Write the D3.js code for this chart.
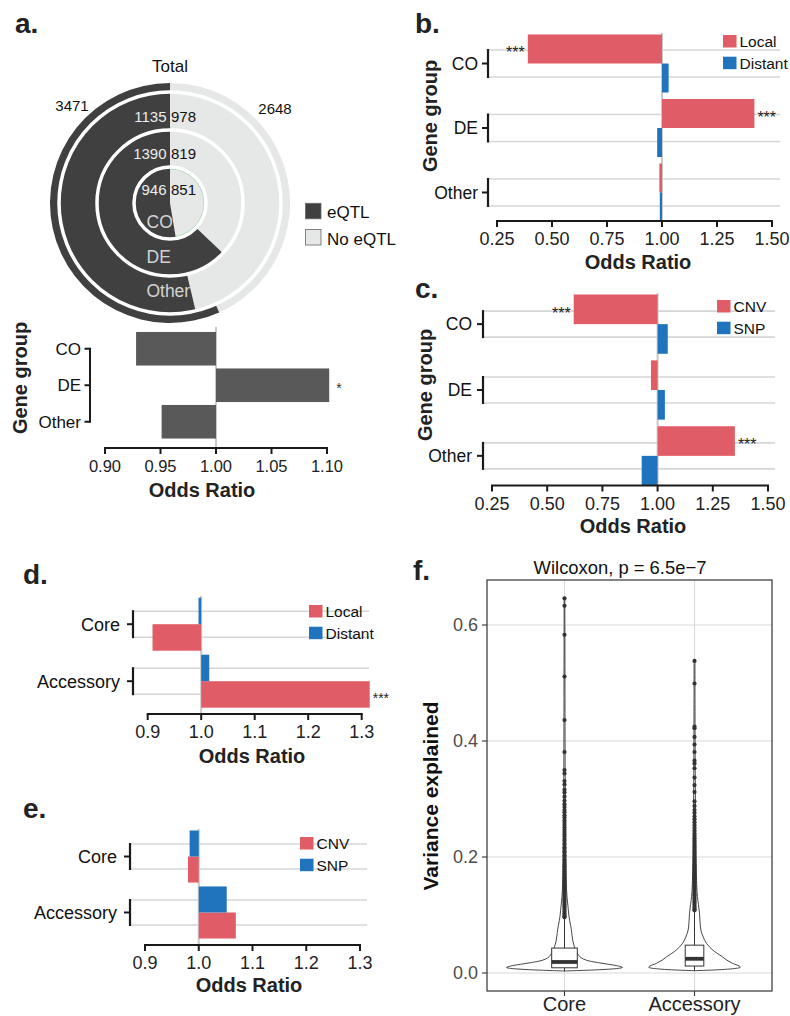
<!DOCTYPE html>
<html><head><meta charset="utf-8">
<script src="https://cdn.jsdelivr.net/npm/d3@7"></script>
<style>body{margin:0;background:#fff}svg{display:block;font-family:"Liberation Sans",Arial,Helvetica,sans-serif}</style>
</head><body>
<script>
// ---------------- DATA ----------------
const donutRings = ["CO", "DE", "Other", "Total"];
const donutEqtl = [946, 1390, 1135, 3471];
const donutNoEqtl = [851, 819, 978, 2648];

const aGroups = ["CO", "DE", "Other"];
const aOdds = [0.928, 1.102, 0.951];
const aSig = ["", "*", ""];
const aTicks = [0.90, 0.95, 1.00, 1.05, 1.10];

const bGroups = ["CO", "DE", "Other"];
const bLocal = [0.39, 1.42, 0.988];
const bDistant = [1.03, 0.978, 0.99];
const bSigLocal = ["***", "***", ""];
const bcTicks = [0.25, 0.50, 0.75, 1.00, 1.25, 1.50];

const cGroups = ["CO", "DE", "Other"];
const cCNV = [0.62, 0.97, 1.35];
const cSNP = [1.046, 1.033, 0.928];
const cSigCNV = ["***", "", "***"];

const deGroups = ["Core", "Accessory"];
const dLocal = [0.909, 1.315];
const dDistant = [0.995, 1.015];
const dSigLocal = ["", "***"];
const eCNV = [0.98, 1.069];
const eSNP = [0.983, 1.052];
const deTicks = [0.9, 1.0, 1.1, 1.2, 1.3];

const fGroups = ["Core", "Accessory"];
const fTicks = [0.0, 0.2, 0.4, 0.6];
const fQ1 = [0.009, 0.012];
const fMedian = [0.019, 0.0245];
const fQ3 = [0.043, 0.048];
const fWhiskerHi = [0.095, 0.106];
const fMin = [0.003, 0.004];
// violin density profiles (value, relative density)
const coreViolinV = [0.0035, 0.005, 0.0065, 0.008, 0.0095, 0.012, 0.015, 0.018, 0.022, 0.026, 0.031, 0.038, 0.045, 0.055, 0.065, 0.075, 0.09, 0.10, 0.115, 0.13, 0.15, 0.2, 0.3, 0.4, 0.5, 0.646];
const coreViolinD = [0.0, 0.45, 0.75, 0.93, 1.0, 0.93, 0.76, 0.57, 0.38, 0.29, 0.24, 0.2, 0.172, 0.145, 0.13, 0.118, 0.09, 0.075, 0.06, 0.045, 0.033, 0.02, 0.013, 0.01, 0.008, 0.006];
const accViolinV = [0.004, 0.0055, 0.007, 0.0085, 0.0098, 0.012, 0.0167, 0.022, 0.028, 0.034, 0.040, 0.051, 0.062, 0.074, 0.088, 0.103, 0.118, 0.132, 0.16, 0.2, 0.3, 0.4, 0.538];
const accViolinD = [0.0, 0.4, 0.62, 0.75, 0.79, 0.77, 0.655, 0.56, 0.48, 0.39, 0.31, 0.207, 0.15, 0.11, 0.095, 0.086, 0.068, 0.05, 0.035, 0.025, 0.015, 0.01, 0.007];
const coreOutliers = [0.646,0.633,0.583,0.511,0.436,0.381,0.350,0.344,0.331,0.325,0.316,0.311,0.304,0.297,0.291,0.286,0.281,0.277,0.272,0.268,0.263,0.259,0.255,0.251,0.247,0.243,0.239,0.235,0.231,0.228,0.224,0.221,0.217,0.214,0.210,0.207,0.203,0.200,0.196,0.193,0.190,0.187,0.184,0.181,0.178,0.175,0.172,0.169,0.166,0.163,0.160,0.157,0.154,0.151,0.148,0.145,0.142,0.139,0.136,0.133,0.130,0.127,0.124,0.121,0.118,0.115,0.112,0.109,0.106,0.103,0.100,0.098,0.096];
const accOutliers = [0.538,0.499,0.425,0.422,0.407,0.394,0.381,0.366,0.361,0.353,0.337,0.324,0.312,0.296,0.288,0.281,0.276,0.270,0.265,0.260,0.255,0.250,0.245,0.240,0.236,0.232,0.228,0.224,0.220,0.216,0.212,0.208,0.204,0.200,0.196,0.192,0.188,0.185,0.182,0.179,0.176,0.173,0.170,0.167,0.164,0.161,0.158,0.155,0.152,0.149,0.146,0.143,0.140,0.137,0.134,0.131,0.128,0.125,0.122,0.119,0.116,0.113,0.110,0.108];

// ---------------- STYLE ----------------
const RED = "#e05d67", BLUE = "#1f74bd", DARK = "#404040", LIGHT = "#e6e7e7";
const INK = "#1a1a1a";

const svg = d3.select("body").append("svg").attr("width", 790).attr("height", 1016);

function label(txt, x, y) {
  svg.append("text").attr("x", x).attr("y", y).attr("font-size", 28).attr("font-weight", "bold").attr("fill", "#222").text(txt);
}
label("a.", 15, 33); label("b.", 415, 33); label("c.", 415, 298);
label("d.", 23, 584); label("e.", 23, 818); label("f.", 413, 580);

// ---------------- PANEL A: donut ----------------
(function () {
  const cx = 170, cy = 203;
  const radii = [[0, 36], [36, 73], [73, 111], [111, 120]];
  const g = svg.append("g").attr("transform", `translate(${cx},${cy})`);
  donutRings.forEach((r, i) => {
    const tot = donutEqtl[i] + donutNoEqtl[i];
    const split = 2 * Math.PI * donutNoEqtl[i] / tot;
    const arc = d3.arc().innerRadius(radii[i][0]).outerRadius(radii[i][1]);
    g.append("path").attr("d", arc({ startAngle: 0, endAngle: split })).attr("fill", LIGHT);
    g.append("path").attr("d", arc({ startAngle: split, endAngle: 2 * Math.PI })).attr("fill", DARK);
    if (i === 0) {
      g.append("path").attr("d", d3.arc().innerRadius(33.8).outerRadius(34.4)({ startAngle: 0, endAngle: split })).attr("fill", "#7ccf8a");
    }
  });
  [36, 73, 111].forEach(r => g.append("circle").attr("r", r).attr("fill", "none").attr("stroke", "#fff").attr("stroke-width", 3.5));

  svg.append("text").attr("x", cx).attr("y", 71.5).attr("text-anchor", "middle").attr("font-size", 17).attr("fill", "#111").text("Total");
  svg.append("text").attr("x", 72).attr("y", 111).attr("text-anchor", "middle").attr("font-size", 15).attr("fill", "#111").text(donutEqtl[3]);
  svg.append("text").attr("x", 275).attr("y", 114).attr("text-anchor", "middle").attr("font-size", 15).attr("fill", "#111").text(donutNoEqtl[3]);
  const numY = { "Other": 122.3, "DE": 159.3, "CO": 195 };
  [0, 1, 2].forEach(i => {
    const k = donutRings[i];
    svg.append("text").attr("x", 166.5).attr("y", numY[k]).attr("text-anchor", "end").attr("font-size", 15).attr("fill", "#ececec").text(donutEqtl[i]);
    svg.append("text").attr("x", 171).attr("y", numY[k]).attr("text-anchor", "start").attr("font-size", 15).attr("fill", "#111").text(donutNoEqtl[i]);
  });
  const ringLab = [["CO", 159.7, 228.3], ["DE", 158.7, 263.3], ["Other", 168.3, 296.7]];
  ringLab.forEach(d => svg.append("text").attr("x", d[1]).attr("y", d[2]).attr("text-anchor", "middle").attr("font-size", 17.5).attr("fill", "#d4d4d4").text(d[0]));

  // legend
  const lg = [["eQTL", DARK, 203.3], ["No eQTL", LIGHT, 229.5]];
  lg.forEach(d => {
    svg.append("rect").attr("x", 305.5).attr("y", d[2]).attr("width", 15.5).attr("height", 15.5).attr("fill", d[1]).attr("stroke", "#666").attr("stroke-width", 0.8);
    svg.append("text").attr("x", 327).attr("y", d[2] + 15).attr("font-size", 17).attr("fill", "#111").text(d[0]);
  });
})();

// ---------------- PANEL A: bars ----------------
(function () {
  const x = d3.scaleLinear().domain([0.9, 1.1]).range([105, 327]);
  const y = d3.scaleBand().domain(aGroups).range([330.5, 440]).paddingInner(0.08).paddingOuter(0.04);
  const g = svg.append("g");
  g.append("line").attr("x1", x(1)).attr("x2", x(1)).attr("y1", 327).attr("y2", 448).attr("stroke", "#c9c9c9").attr("stroke-width", 2);
  aGroups.forEach((k, i) => {
    const v = aOdds[i];
    g.append("rect").attr("x", Math.min(x(1), x(v))).attr("width", Math.abs(x(v) - x(1)))
      .attr("y", y(k)).attr("height", y.bandwidth()).attr("fill", "#595959");
    if (aSig[i]) g.append("text").attr("x", x(v) + 7).attr("y", y(k) + y.bandwidth() / 2 + 8).attr("font-size", 14).attr("fill", "#333").text(aSig[i]);
    const c = y(k) + y.bandwidth() / 2;
    g.append("line").attr("x1", 84.5).attr("x2", 90).attr("y1", c).attr("y2", c).attr("stroke", INK).attr("stroke-width", 2);
    g.append("text").attr("x", 81).attr("y", c).attr("dy", "0.36em").attr("text-anchor", "end").attr("font-size", 17).attr("fill", "#111").text(k);
  });
  const c0 = y(aGroups[0]) + y.bandwidth() / 2, c2 = y(aGroups[2]) + y.bandwidth() / 2;
  g.append("line").attr("x1", 90).attr("x2", 90).attr("y1", c0 - 1).attr("y2", c2 + 1).attr("stroke", INK).attr("stroke-width", 2);
  // axis
  g.append("line").attr("x1", x(aTicks[0]) - 1).attr("x2", x(aTicks[aTicks.length - 1]) + 1).attr("y1", 448).attr("y2", 448).attr("stroke", INK).attr("stroke-width", 2);
  aTicks.forEach(t => {
    g.append("line").attr("x1", x(t)).attr("x2", x(t)).attr("y1", 448).attr("y2", 454).attr("stroke", INK).attr("stroke-width", 2);
    g.append("text").attr("x", x(t)).attr("y", 472).attr("text-anchor", "middle").attr("font-size", 16.5).attr("fill", "#222").text(d3.format(".2f")(t));
  });
  g.append("text").attr("x", 202).attr("y", 497).attr("text-anchor", "middle").attr("font-size", 20).attr("font-weight", "bold").attr("fill", "#222").text("Odds Ratio");
  g.append("text").attr("transform", "translate(27,378) rotate(-90)").attr("text-anchor", "middle").attr("font-size", 20).attr("font-weight", "bold").attr("fill", "#222").text("Gene group");
})();

// ---------------- grouped odds-ratio panels ----------------
function oddsPanel(o) {
  const g = svg.append("g");
  const x = d3.scaleLinear().domain(o.xDomain).range(o.xRange);
  const y = d3.scaleBand().domain(o.groups).range(o.yRange).paddingInner(o.padIn).paddingOuter(0);
  const sub = d3.scaleBand().domain(o.order).range([0, y.bandwidth()]);
  o.groups.forEach(k => {
    const c = y(k) + y.bandwidth() / 2;
    [c - o.gridOff, c + o.gridOff].forEach(yy =>
      g.append("line").attr("x1", o.gridX[0]).attr("x2", o.gridX[1]).attr("y1", yy).attr("y2", yy).attr("stroke", "#d6d6d6").attr("stroke-width", 1.6));
    g.append("line").attr("x1", o.bracketX).attr("x2", o.bracketX).attr("y1", c - o.gridOff - 1).attr("y2", c + o.gridOff + 1).attr("stroke", INK).attr("stroke-width", 2.2);
    g.append("line").attr("x1", o.bracketX - 6).attr("x2", o.bracketX).attr("y1", c).attr("y2", c).attr("stroke", INK).attr("stroke-width", 2);
    g.append("text").attr("x", o.bracketX - o.labelGap).attr("y", c).attr("dy", "0.36em").attr("text-anchor", "end").attr("font-size", o.catSize).attr("fill", "#111").text(k);
  });
  g.append("line").attr("x1", x(1)).attr("x2", x(1)).attr("y1", o.refTop).attr("y2", o.axisY).attr("stroke", "#c9c9c9").attr("stroke-width", 2);
  o.series.forEach(s => {
    s.values.forEach((v, i) => {
      const k = o.groups[i];
      const y0 = y(k) + sub(s.name);
      g.append("rect").attr("x", Math.min(x(1), x(v))).attr("width", Math.max(1, Math.abs(x(v) - x(1))))
        .attr("y", y0).attr("height", sub.bandwidth()).attr("fill", s.color);
      if (s.sig && s.sig[i]) {
        const left = v < 1;
        g.append("text").attr("x", left ? x(v) - 3 : x(v) + 3).attr("y", y0 + sub.bandwidth() / 2 + o.starSize * 0.58)
          .attr("text-anchor", left ? "end" : "start").attr("font-size", o.starSize).attr("fill", "#222").text(s.sig[i]);
      }
    });
  });
  // axis
  const t0 = x(o.ticks[0]), t1 = x(o.ticks[o.ticks.length - 1]);
  g.append("line").attr("x1", t0 - 1).attr("x2", t1 + 1).attr("y1", o.axisY).attr("y2", o.axisY).attr("stroke", INK).attr("stroke-width", 2);
  o.ticks.forEach(t => {
    g.append("line").attr("x1", x(t)).attr("x2", x(t)).attr("y1", o.axisY).attr("y2", o.axisY + 6).attr("stroke", INK).attr("stroke-width", 2);
    g.append("text").attr("x", x(t)).attr("y", o.axisY + 24).attr("text-anchor", "middle").attr("font-size", 18).attr("fill", "#222").text(d3.format(o.fmt)(t));
  });
  g.append("text").attr("x", o.titleX).attr("y", o.titleY).attr("text-anchor", "middle").attr("font-size", 20).attr("font-weight", "bold").attr("fill", "#222").text("Odds Ratio");
  if (o.gtitle) g.append("text").attr("transform", `translate(${o.gtitle[0]},${o.gtitle[1]}) rotate(-90)`).attr("text-anchor", "middle").attr("font-size", 20).attr("font-weight", "bold").attr("fill", "#222").text("Gene group");
  // legend
  o.legend.items.forEach((it, i) => {
    const ly = o.legend.y + i * 21.7;
    g.append("rect").attr("x", o.legend.x).attr("y", ly).attr("width", 13.5).attr("height", 12.5).attr("fill", it[1]);
    g.append("text").attr("x", o.legend.x + 16.5).attr("y", ly + 12).attr("font-size", 15.5).attr("fill", "#111").text(it[0]);
  });
}

oddsPanel({
  groups: bGroups, order: ["Local", "Distant"],
  series: [{ name: "Local", values: bLocal, color: RED, sig: bSigLocal }, { name: "Distant", values: bDistant, color: BLUE }],
  xDomain: [0.25, 1.5], xRange: [497, 772], yRange: [34.5, 221.5], padIn: 0.1, gridOff: 13.5,
  gridX: [488, 780], bracketX: 488, labelGap: 10, catSize: 17.5, axisY: 221, refTop: 33,
  ticks: bcTicks, fmt: ".2f", titleX: 638, titleY: 269, gtitle: [437, 116], starSize: 16,
  legend: { x: 723, y: 35, items: [["Local", RED], ["Distant", BLUE]] }
});
oddsPanel({
  groups: cGroups, order: ["CNV", "SNP"],
  series: [{ name: "CNV", values: cCNV, color: RED, sig: cSigCNV }, { name: "SNP", values: cSNP, color: BLUE }],
  xDomain: [0.25, 1.5], xRange: [492, 768], yRange: [294.5, 485.5], padIn: 0.1, gridOff: 13,
  gridX: [483, 775], bracketX: 483, labelGap: 11, catSize: 17.5, axisY: 485.5, refTop: 293,
  ticks: bcTicks, fmt: ".2f", titleX: 633, titleY: 533, gtitle: [432, 385], starSize: 16,
  legend: { x: 717, y: 300, items: [["CNV", RED], ["SNP", BLUE]] }
});
oddsPanel({
  groups: deGroups, order: ["Distant", "Local"],
  series: [{ name: "Local", values: dLocal, color: RED, sig: dSigLocal }, { name: "Distant", values: dDistant, color: BLUE }],
  xDomain: [0.9, 1.3], xRange: [147.7, 361.7], yRange: [597.7, 707.7], padIn: 0.07, gridOff: 13,
  gridX: [133, 369], bracketX: 133, labelGap: 13, catSize: 18, axisY: 714, refTop: 596,
  ticks: deTicks, fmt: ".1f", titleX: 252, titleY: 763, gtitle: null, starSize: 14,
  legend: { x: 309, y: 605, items: [["Local", RED], ["Distant", BLUE]] }
});
oddsPanel({
  groups: deGroups, order: ["SNP", "CNV"],
  series: [{ name: "CNV", values: eCNV, color: RED }, { name: "SNP", values: eSNP, color: BLUE }],
  xDomain: [0.9, 1.3], xRange: [145, 360], yRange: [830.5, 938.5], padIn: 0.07, gridOff: 12.5,
  gridX: [130, 367], bracketX: 130, labelGap: 13, catSize: 18, axisY: 945, refTop: 829,
  ticks: deTicks, fmt: ".1f", titleX: 249, titleY: 992, gtitle: null, starSize: 14,
  legend: { x: 300, y: 837, items: [["CNV", RED], ["SNP", BLUE]] }
});

// ---------------- PANEL F ----------------
(function () {
  const L = 487, R = 772, T = 580, B = 991;
  const y = d3.scaleLinear().domain([0, 0.6]).range([973, 625]);
  const x = d3.scalePoint().domain(fGroups).range([L, R]).padding(0.596);
  const w = d3.scaleLinear().domain([0, 1]).range([0, 58]);
  const boxHW = [12.8, 9.3];
  const g = svg.append("g");
  fTicks.forEach(t => g.append("line").attr("x1", L).attr("x2", R).attr("y1", y(t)).attr("y2", y(t)).attr("stroke", "#dadada").attr("stroke-width", 1.1));
  fGroups.forEach(k => g.append("line").attr("x1", x(k)).attr("x2", x(k)).attr("y1", T).attr("y2", B).attr("stroke", "#dadada").attr("stroke-width", 1.1));

  const profiles = [[coreViolinV, coreViolinD], [accViolinV, accViolinD]];
  const outl = [coreOutliers, accOutliers];
  fGroups.forEach((k, i) => {
    const cx = x(k);
    const pts = profiles[i][0].map((v, j) => ({ v, d: profiles[i][1][j] }));
    const area = d3.area().y(d => y(d.v)).x0(d => cx - w(d.d)).x1(d => cx + w(d.d)).curve(d3.curveCatmullRom.alpha(0.5));
    g.append("path").attr("d", area(pts)).attr("fill", "#fff").attr("stroke", "#333").attr("stroke-width", 0.9);
    g.append("line").attr("x1", cx).attr("x2", cx).attr("y1", y(fQ3[i])).attr("y2", y(fWhiskerHi[i])).attr("stroke", "#333").attr("stroke-width", 1);
    g.append("line").attr("x1", cx).attr("x2", cx).attr("y1", y(fQ1[i])).attr("y2", y(fMin[i])).attr("stroke", "#333").attr("stroke-width", 1);
    g.append("rect").attr("x", cx - boxHW[i]).attr("width", 2 * boxHW[i]).attr("y", y(fQ3[i])).attr("height", y(fQ1[i]) - y(fQ3[i]))
      .attr("fill", "#fff").attr("stroke", "#333").attr("stroke-width", 1);
    g.append("line").attr("x1", cx - boxHW[i]).attr("x2", cx + boxHW[i]).attr("y1", y(fMedian[i])).attr("y2", y(fMedian[i])).attr("stroke", "#333").attr("stroke-width", 3.8);
    g.selectAll(null).data(outl[i]).enter().append("circle").attr("cx", cx).attr("cy", d => y(d)).attr("r", 2.1).attr("fill", "#333");
  });
  g.append("rect").attr("x", L).attr("y", T).attr("width", R - L).attr("height", B - T).attr("fill", "none").attr("stroke", "#333").attr("stroke-width", 1.2);
  fTicks.forEach(t => {
    g.append("line").attr("x1", L - 5).attr("x2", L).attr("y1", y(t)).attr("y2", y(t)).attr("stroke", "#333").attr("stroke-width", 1.1);
    g.append("text").attr("x", L - 9).attr("y", y(t)).attr("dy", "0.36em").attr("text-anchor", "end").attr("font-size", 18).attr("fill", "#4d4d4d").text(d3.format(".1f")(t));
  });
  fGroups.forEach(k => {
    g.append("line").attr("x1", x(k)).attr("x2", x(k)).attr("y1", B).attr("y2", B + 5).attr("stroke", "#333").attr("stroke-width", 1.1);
    g.append("text").attr("x", x(k)).attr("y", 1011).attr("text-anchor", "middle").attr("font-size", 20).attr("fill", "#222").text(k);
  });
  g.append("text").attr("x", 620).attr("y", 574).attr("text-anchor", "middle").attr("font-size", 18.4).attr("fill", "#111").text("Wilcoxon, p = 6.5e\u22127");
  g.append("text").attr("transform", "translate(438,796) rotate(-90)").attr("text-anchor", "middle").attr("font-size", 21).attr("font-weight", "bold").attr("fill", "#111").text("Variance explained");
})();
</script>
</body></html>
